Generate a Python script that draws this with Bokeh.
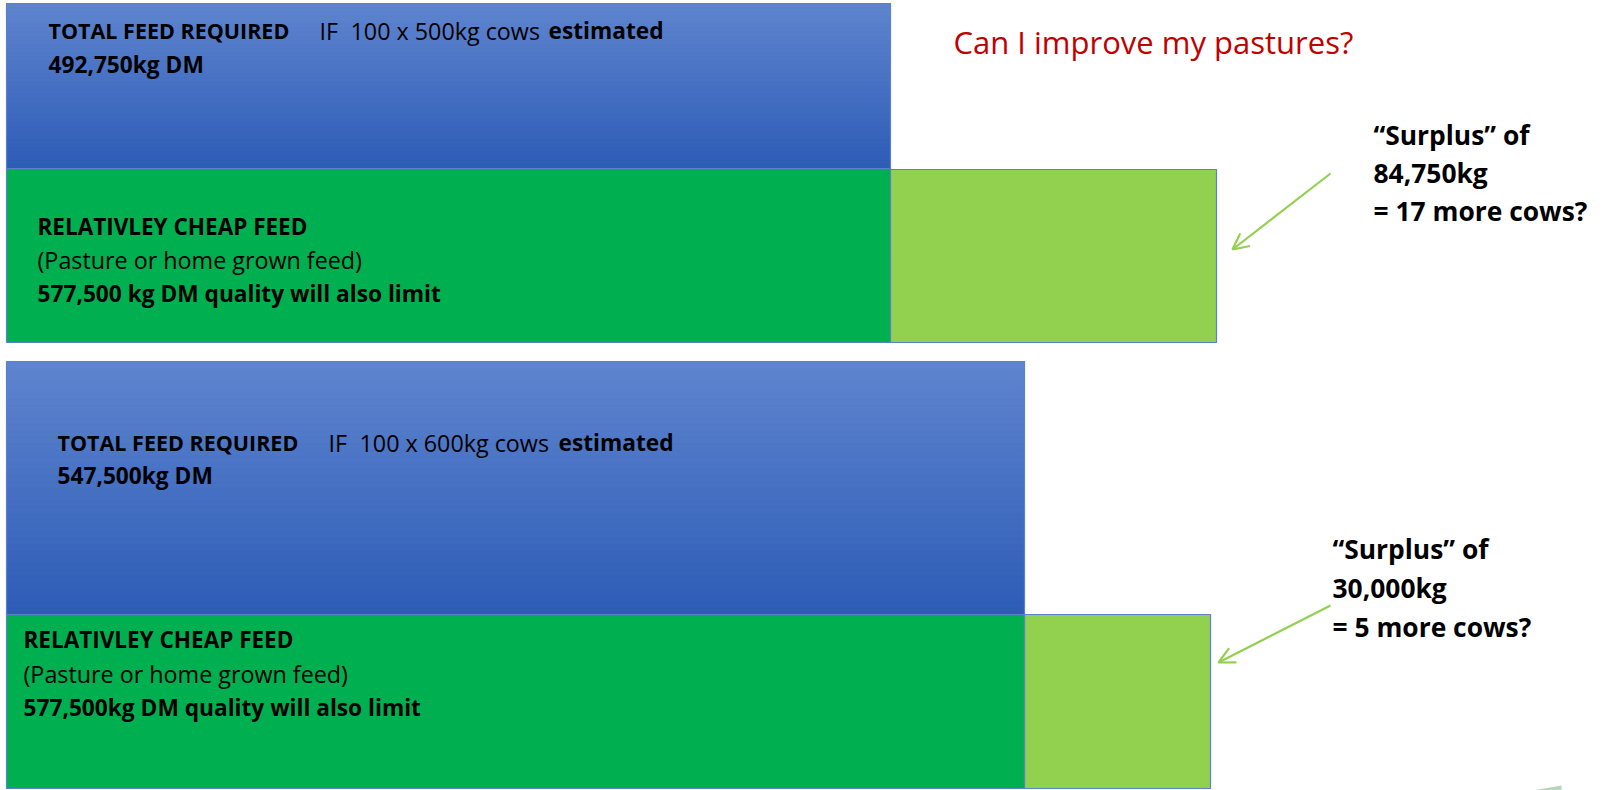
import numpy as np
from bokeh.plotting import figure
from bokeh.models import Range1d, Arrow, OpenHead, Label
from bokeh.layouts import column
from bokeh.embed import file_html
from bokeh.resources import INLINE

# ---------------- data ----------------
herds = ["100 x 500kg cows", "100 x 600kg cows"]
feed_required_kg = [492750, 547500]      # total feed required (kg DM)
cheap_feed_kg = [577500, 577500]         # relatively cheap feed available (kg DM)
extra_cows = [17, 5]                     # cows the surplus could carry
cheap_feed_notes = ["577,500 kg DM quality will also limit",
                    "577,500kg DM quality will also limit"]
title_text = "Can I improve my pastures?"

# ---------------- view / layout (screen px) ----------------
W = 1612
FONT = "Open Sans"
FS_CAPS1 = "21.5px"   # TOTAL FEED REQUIRED
FS_CAPS2 = "22.5px"   # RELATIVLEY CHEAP FEED
FS_BOLD = "22.7px"    # bold mixed-case
FS_REG = "23.3px"     # regular
SUR_FS = "26.4px"
TITLE_FS = "31px"
DY = -9   # baseline correction
BLUE_TOP = np.array([95, 133, 207])
BLUE_BOT = np.array([46, 93, 183])
GREEN = "#00B050"
LIGHT_GREEN = "#92D050"
EDGE = "#5B80CC"

panels = [
    dict(h=350, y0=0, x_lo=261377, x_hi=680447, origin=262937,
         blue=(3, 168), green=(168, 342), light_top=169,
         req_x=48, req_base=(39, 73), if_x=319, num_x=350, est_x=548,
         cheap_x=37, cheap_base=(235, 268, 302),
         sur_x=1373, sur_base=(143, 181, 219),
         arrow=((1330, 173), (1232, 249))),
    dict(h=440, y0=350, x_lo=382338, x_hi=642338, origin=383306,
         blue=(361, 614), green=(614, 788), light_top=614,
         req_x=57, req_base=(451, 484), if_x=328, num_x=359, est_x=558,
         cheap_x=23, cheap_base=(648, 682, 716),
         sur_x=1332, sur_base=(557, 596, 635),
         arrow=((1330, 605), (1218, 662))),
]


def lab(p, x, y, text, size, bold=False, color="black"):
    p.add_layout(Label(x=x, y=y + DY, text=text, text_font=FONT, text_font_size=size,
                       text_font_style="bold" if bold else "normal", text_color=color,
                       text_baseline="alphabetic", text_align="left"))


figs = []
for i, pv in enumerate(panels):
    h, y0 = pv["h"], pv["y0"]
    p = figure(width=W, height=h, output_backend="svg", toolbar_location=None,
               x_range=Range1d(pv["x_lo"], pv["x_hi"]),
               y_range=Range1d(y0 + h, y0), min_border=0)
    p.axis.visible = False
    p.grid.visible = False
    p.outline_line_color = None
    p.background_fill_color = "white"
    p.border_fill_color = "white"

    def X(px, pv=pv):
        return pv["x_lo"] + px * (pv["x_hi"] - pv["x_lo"]) / W

    req = feed_required_kg[i]
    cheap = cheap_feed_kg[i]
    surplus = cheap - req
    left = pv["origin"]

    # blue "total feed required" box with vertical gradient
    bt, bb = pv["blue"]
    n = 40
    edges = np.linspace(bt, bb, n + 1)
    tfrac = (np.arange(n) + 0.5) / n
    cols = ["#%02x%02x%02x" % tuple((BLUE_TOP + (BLUE_BOT - BLUE_TOP) * t).astype(int)) for t in tfrac]
    tops = edges[:-1].tolist()
    bots = [min(b + 1.5, bb) for b in edges[1:]]
    p.quad(left=[left] * n, right=[req] * n, top=tops, bottom=bots,
           fill_color=cols, line_color=cols, line_width=1)
    p.quad(left=[left], right=[req], top=[bt], bottom=[bb], fill_color=None,
           line_color=EDGE, line_width=1.2)

    # green cheap-feed box (covers requirement) + light-green surplus
    gt, gb = pv["green"]
    p.quad(left=[left], right=[req], top=[gt], bottom=[gb], fill_color=GREEN,
           line_color=EDGE, line_width=1.2)
    p.quad(left=[req], right=[cheap], top=[pv["light_top"]], bottom=[gb], fill_color=LIGHT_GREEN,
           line_color=EDGE, line_width=1.2)

    # texts in blue box
    l1, l2 = pv["req_base"]
    lab(p, X(pv["req_x"]), l1, "TOTAL FEED REQUIRED", FS_CAPS1, True)
    lab(p, X(pv["if_x"]), l1, "IF", FS_REG, False)
    lab(p, X(pv["num_x"]), l1, herds[i], FS_REG, False)
    lab(p, X(pv["est_x"]), l1, "estimated", FS_BOLD, True)
    lab(p, X(pv["req_x"]), l2, f"{req:,}kg DM", FS_BOLD, True)

    # texts in green box
    c1, c2, c3 = pv["cheap_base"]
    lab(p, X(pv["cheap_x"]), c1, "RELATIVLEY CHEAP FEED", FS_CAPS2, True)
    lab(p, X(pv["cheap_x"]), c2, "(Pasture or home grown feed)", FS_REG, False)
    lab(p, X(pv["cheap_x"]), c3, cheap_feed_notes[i], FS_BOLD, True)

    # surplus annotation
    s1, s2, s3 = pv["sur_base"]
    lab(p, X(pv["sur_x"]), s1, "\u201cSurplus\u201d of", SUR_FS, True)
    lab(p, X(pv["sur_x"]), s2, f"{surplus:,}kg", SUR_FS, True)
    lab(p, X(pv["sur_x"]), s3, f"= {extra_cows[i]} more cows?", SUR_FS, True)

    (ax0, ay0), (ax1, ay1) = pv["arrow"]
    p.add_layout(Arrow(x_start=X(ax0), y_start=ay0, x_end=X(ax1), y_end=ay1,
                       line_color=LIGHT_GREEN, line_width=2.2,
                       end=OpenHead(size=16, line_color=LIGHT_GREEN, line_width=2.2)))

    if i == 0:
        lab(p, X(953), 50, title_text, TITLE_FS, False, "#C00000")
    else:
        # faint decorative sliver at bottom right
        p.patch(x=[X(1532), X(1561), X(1561)], y=[790, 785, 790], fill_color="#B7D5BA",
                line_color=None)
    figs.append(p)

layout = column(*figs, spacing=0)
open("out.html", "w").write(file_html(layout, INLINE))
